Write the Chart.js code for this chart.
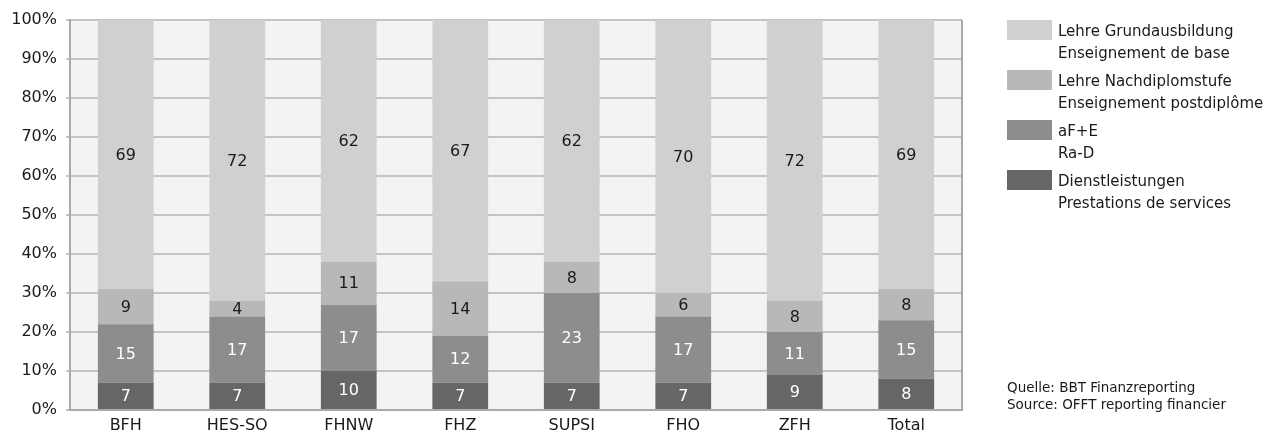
<!DOCTYPE html>
<html>
<head>
<meta charset="utf-8">
<script src="https://cdn.jsdelivr.net/npm/chart.js@4"></script>
<style>
  html, body { margin: 0; padding: 0; background: #ffffff; }
  body { width: 1279px; height: 438px; position: relative; overflow: hidden; font-family: "DejaVu Sans", sans-serif; color: #1a1a1a; }
  #wrap { position: absolute; left: 0; top: 0; width: 1279px; height: 438px; }
  #legend { position: absolute; left: 1007px; top: 19px; }
  .item { position: relative; height: 50px; }
  .box { position: absolute; left: 0; top: 1px; width: 45px; height: 20px; }
  .txt { position: absolute; left: 51px; top: 1px; font-size: 15px; line-height: 22px; white-space: nowrap; }
  #source { position: absolute; left: 1007px; top: 379px; font-size: 13.5px; line-height: 17px; white-space: nowrap; }
</style>
</head>
<body>
<div id="wrap"><canvas id="c" width="1279" height="438"></canvas></div>
<div id="legend"></div>
<div id="source">Quelle: BBT Finanzreporting<br>Source: OFFT reporting financier</div>
<script>
const categories = ["BFH", "HES-SO", "FHNW", "FHZ", "SUPSI", "FHO", "ZFH", "Total"];
const dienstleistungen = [7, 7, 10, 7, 7, 7, 9, 8];
const afe = [15, 17, 17, 12, 23, 17, 11, 15];
const nachdiplom = [9, 4, 11, 14, 8, 6, 8, 8];
const grundausbildung = [69, 72, 62, 67, 62, 70, 72, 69];
const yTicks = [0, 10, 20, 30, 40, 50, 60, 70, 80, 90, 100];
const seriesNames = [
  ["Dienstleistungen", "Prestations de services"],
  ["aF+E", "Ra-D"],
  ["Lehre Nachdiplomstufe", "Enseignement postdiplôme"],
  ["Lehre Grundausbildung", "Enseignement de base"]
];
const seriesColors = ["#666667", "#8c8d8e", "#b7b8b9", "#d0d0d0"];
const labelColors = ["#ffffff", "#ffffff", "#1a1a1a", "#1a1a1a"];
const seriesData = [dienstleistungen, afe, nachdiplom, grundausbildung];

const FONT = '"DejaVu Sans", sans-serif';

const bgPlugin = {
  id: 'plotBg',
  beforeDraw(chart) {
    const {ctx, chartArea: a} = chart;
    ctx.save();
    ctx.fillStyle = '#f2f3f2';
    ctx.fillRect(a.left, a.top, a.right - a.left, a.bottom - a.top);
    ctx.restore();
  },
  afterDatasetsDraw(chart) {
    const {ctx, chartArea: a} = chart;
    ctx.save();
    ctx.strokeStyle = '#a9a9a9';
    ctx.lineWidth = 2;
    ctx.beginPath();
    ctx.moveTo(a.right, a.top);
    ctx.lineTo(a.right, a.bottom);
    ctx.stroke();
    ctx.font = '16px ' + FONT;
    ctx.textAlign = 'center';
    ctx.textBaseline = 'middle';
    chart.data.datasets.forEach((ds, di) => {
      const meta = chart.getDatasetMeta(di);
      meta.data.forEach((bar, i) => {
        const v = ds.data[i];
        const p = bar.getProps(['x', 'y', 'base'], true);
        ctx.fillStyle = labelColors[di];
        ctx.fillText(String(v), p.x, (p.y + p.base) / 2 + 1);
      });
    });
    ctx.restore();
  }
};

new Chart(document.getElementById('c'), {
  type: 'bar',
  data: {
    labels: categories,
    datasets: seriesData.map((d, i) => ({
      label: seriesNames[i].join(' '),
      data: d,
      backgroundColor: seriesColors[i],
      borderWidth: 0,
      barPercentage: 0.5,
      categoryPercentage: 1.0
    }))
  },
  options: {
    responsive: false,
    animation: false,
    devicePixelRatio: 1,
    layout: { padding: { left: 0, right: 317, top: 20, bottom: 0 } },
    plugins: { legend: { display: false }, tooltip: { enabled: false } },
    scales: {
      x: {
        stacked: true,
        grid: { display: false, drawTicks: false },
        border: { display: true, color: '#a9a9a9', width: 2 },
        ticks: { color: '#1a1a1a', font: { family: FONT, size: 16 }, padding: 6 },
        afterFit(scale) { scale.height = 28; }
      },
      y: {
        stacked: true,
        min: 0, max: 100,
        afterBuildTicks(scale) { scale.ticks = yTicks.map(v => ({ value: v })); },
        grid: { color: '#c4c4c4', lineWidth: 2, tickLength: 4, drawTicks: true },
        border: { display: true, color: '#a9a9a9', width: 2 },
        ticks: {
          color: '#1a1a1a',
          font: { family: FONT, size: 16 },
          padding: 9,
          callback: v => v + '%'
        },
        afterFit(scale) { scale.width = 70; }
      }
    }
  },
  plugins: [bgPlugin]
});

const legend = document.getElementById('legend');
for (let i = seriesNames.length - 1; i >= 0; i--) {
  const item = document.createElement('div');
  item.className = 'item';
  const box = document.createElement('div');
  box.className = 'box';
  box.style.background = seriesColors[i];
  const txt = document.createElement('div');
  txt.className = 'txt';
  txt.innerHTML = seriesNames[i][0] + '<br>' + seriesNames[i][1];
  item.appendChild(box);
  item.appendChild(txt);
  legend.appendChild(item);
}
</script>
</body>
</html>
